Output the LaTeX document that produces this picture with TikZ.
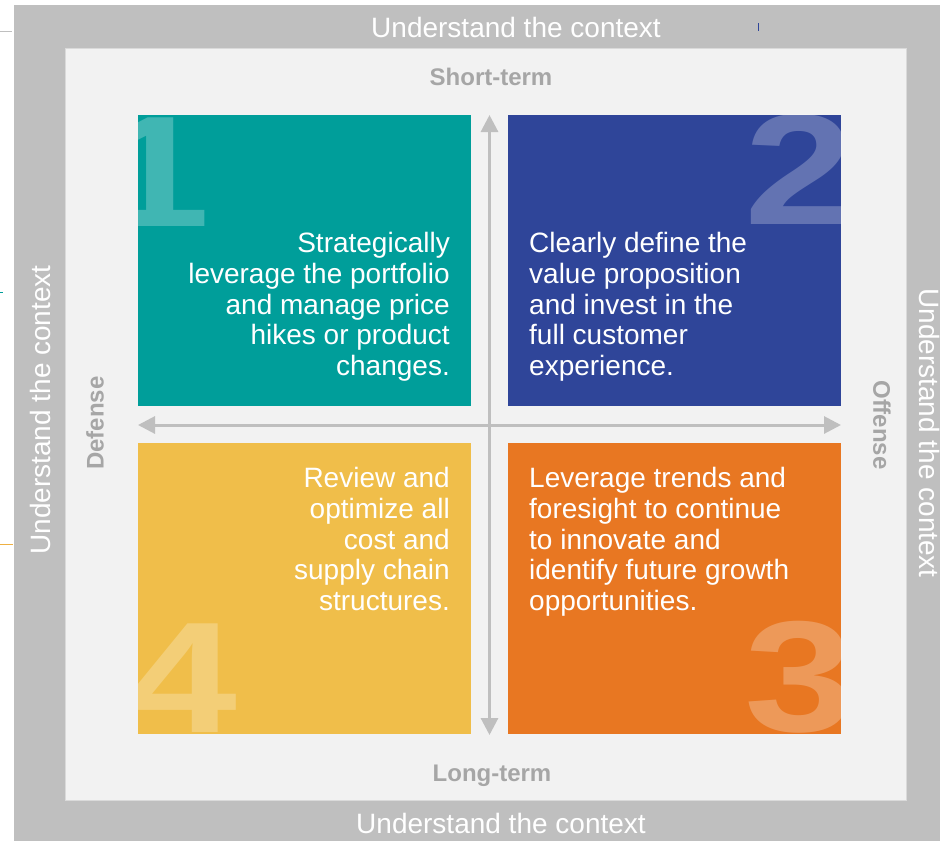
\documentclass[tikz,border=0pt]{standalone}
\usepackage{fontspec}
\setmainfont{Liberation Sans}
\usetikzlibrary{arrows.meta, positioning}
\definecolor{framegray}{HTML}{BFBFBF}
\definecolor{panelgray}{HTML}{F2F2F2}
\definecolor{panelline}{HTML}{DADADA}
\definecolor{axisgray}{HTML}{A6A6A6}
\definecolor{qteal}{HTML}{009E9A}
\definecolor{qblue}{HTML}{2F4599}
\definecolor{qorange}{HTML}{E87722}
\definecolor{qyellow}{HTML}{F0BE4A}
\newcommand{\bignum}[1]{\scalebox{1.25}[1]{#1}}

\begin{document}
\begin{tikzpicture}[x=1pt, y=-1pt,
  quad/.style={minimum width=333pt, minimum height=291pt, inner sep=0pt, outer sep=0pt},
  body/.style={text=white, font=\fontsize{28}{30.8}\selectfont, inner sep=0pt},
  side/.style={text=white, font=\fontsize{28}{32}\selectfont, inner sep=0pt},
  axislabel/.style={text=axisgray, font=\bfseries\fontsize{24}{28}\selectfont, inner sep=0pt},
  numlabel/.style={text=white, text opacity=0.25, font=\bfseries\fontsize{158}{160}\selectfont, inner sep=0pt},
  twoway/.style={draw=framegray, line width=3pt, {Triangle[length=17pt,width=17pt]}-{Triangle[length=17pt,width=17pt]}}]
  \useasboundingbox (0,0) rectangle (940,841);

  % frame and panel
  \fill[framegray] (14,5) rectangle (940,841);
  \filldraw[fill=panelgray, draw=panelline, line width=0.8pt] (65,48) rectangle (906,800);

  % stray marks at the edge
  \draw[framegray, line width=1pt] (0,31) -- (12,31);
  \draw[qteal, line width=1pt] (0,292) -- (3,292);
  \draw[qyellow!80!qorange, line width=1pt] (0,544) -- (13,544);
  \draw[qblue, line width=1pt] (758,23) -- (758,31);

  % the four fields
  \node[quad, fill=qteal] (q1) at (304.5,260) {};
  \node[quad, fill=qblue] (q2) at (674.5,260) {};
  \node[quad, fill=qyellow] (q4) at (304.5,588.5) {};
  \node[quad, fill=qorange] (q3) at (674.5,588.5) {};

  % big numbers, cut by their field
  \begin{scope}
    \clip (q1.south west) rectangle (q1.north east);
    \node[numlabel, anchor=base west] (n1) at (100,226) {\bignum{1}};
  \end{scope}
  \begin{scope}
    \clip (q2.south west) rectangle (q2.north east);
    \node[numlabel, anchor=base west] (n2) at (744,224) {\bignum{2}};
  \end{scope}
  \begin{scope}
    \clip (q3.south west) rectangle (q3.north east);
    \node[numlabel, anchor=base west] (n3) at (744,731) {\bignum{3}};
  \end{scope}
  \begin{scope}
    \clip (q4.south west) rectangle (q4.north east);
    \node[numlabel, anchor=base east] (n4) at (238,732) {\bignum{4}};
  \end{scope}

  % texts of the fields
  \node[body, align=right, anchor=north east] (t1) at (450,232) {Strategically\\leverage the portfolio\\and manage price\\hikes or product\\changes.};
  \node[body, align=left, anchor=north west] (t2) at (529,232) {Clearly define the\\value proposition\\and invest in the\\full customer\\experience.};
  \node[body, align=right, anchor=north east] (t4) at (450,467) {Review and\\optimize all\\cost and\\supply chain\\structures.};
  \node[body, align=left, anchor=north west] (t3) at (529,467) {Leverage trends and\\foresight to continue\\to innovate and\\identify future growth\\opportunities.};

  % axes
  \coordinate (vtop) at (489.5,115);
  \coordinate (vbot) at (489.5,735);
  \coordinate (hleft) at (138,425);
  \coordinate (hright) at (841,425);
  \draw[twoway] (vbot) -- (vtop);
  \draw[twoway] (hleft) -- (hright);

  \node[axislabel, anchor=base] (short) at (491,85) {Short-term};
  \node[axislabel, anchor=base] (long) at (492,781) {Long-term};
  \node[axislabel, rotate=90] (def) at (95,423) {Defense};
  \node[axislabel, rotate=-90] (off) at (882,425) {Offense};

  % context on all sides
  \node[side, anchor=base] (ctop) at (516,37) {Understand the context};
  \node[side, anchor=base] (cbot) at (501,833) {Understand the context};
  \node[side, rotate=90] (cleft) at (40,410) {Understand the context};
  \node[side, rotate=-90] (cright) at (929,433) {Understand the context};
\end{tikzpicture}
\end{document}
